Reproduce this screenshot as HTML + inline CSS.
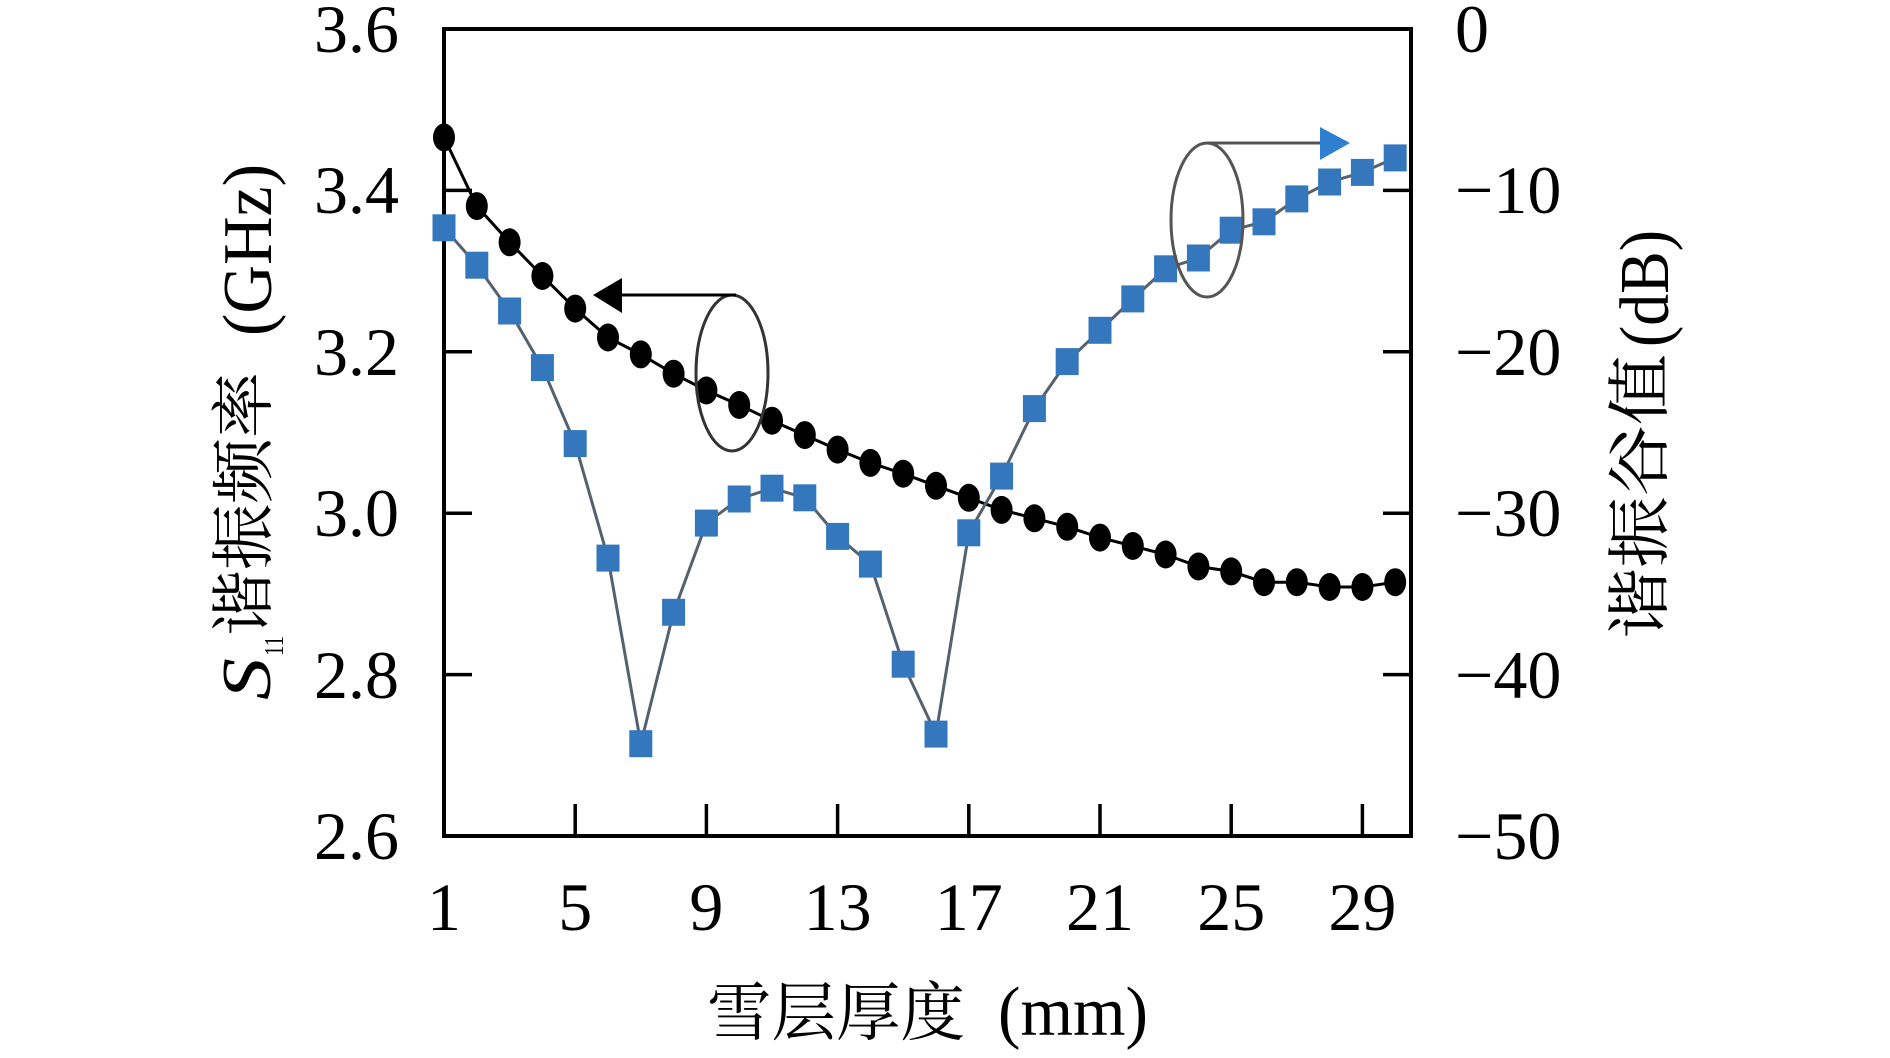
<!DOCTYPE html>
<html>
<head>
<meta charset="utf-8">
<style>
html,body{margin:0;padding:0;background:#fff;}
svg{display:block;}
.tk{font-family:"Liberation Serif","DejaVu Serif",serif;font-size:68px;fill:#000;}
.cj{font-family:"Liberation Serif","Noto Serif CJK SC","Noto Sans CJK SC",serif;fill:#000;}
</style>
</head>
<body>
<svg width="1890" height="1058" viewBox="0 0 1890 1058" xmlns="http://www.w3.org/2000/svg">
<rect x="0" y="0" width="1890" height="1058" fill="#fff"/>

<!-- ticks -->
<g stroke="#000" stroke-width="3.5">
  <line x1="444" y1="190.4" x2="472" y2="190.4"/>
  <line x1="444" y1="351.8" x2="472" y2="351.8"/>
  <line x1="444" y1="513.2" x2="472" y2="513.2"/>
  <line x1="444" y1="674.6" x2="472" y2="674.6"/>
  <line x1="444" y1="29" x2="472" y2="29"/>
  <line x1="1383" y1="190.4" x2="1411" y2="190.4"/>
  <line x1="1383" y1="351.8" x2="1411" y2="351.8"/>
  <line x1="1383" y1="513.2" x2="1411" y2="513.2"/>
  <line x1="1383" y1="674.6" x2="1411" y2="674.6"/>
  <line x1="575.2" y1="836" x2="575.2" y2="804"/>
  <line x1="706.4" y1="836" x2="706.4" y2="804"/>
  <line x1="837.6" y1="836" x2="837.6" y2="804"/>
  <line x1="968.8" y1="836" x2="968.8" y2="804"/>
  <line x1="1100" y1="836" x2="1100" y2="804"/>
  <line x1="1231.2" y1="836" x2="1231.2" y2="804"/>
  <line x1="1362.4" y1="836" x2="1362.4" y2="804"/>
</g>
<rect x="444" y="29" width="967" height="807" fill="none" stroke="#000" stroke-width="4"/>

<!-- left tick labels -->
<g class="tk" text-anchor="end">
  <text x="399" y="52">3.6</text>
  <text x="399" y="213">3.4</text>
  <text x="399" y="375">3.2</text>
  <text x="399" y="536">3.0</text>
  <text x="399" y="698">2.8</text>
  <text x="399" y="859">2.6</text>
</g>
<!-- right tick labels -->
<g class="tk" text-anchor="start">
  <text x="1455" y="52">0</text>
  <text x="1455" y="213">−10</text>
  <text x="1455" y="375">−20</text>
  <text x="1455" y="536">−30</text>
  <text x="1455" y="698">−40</text>
  <text x="1455" y="859">−50</text>
</g>
<!-- bottom tick labels -->
<g class="tk" text-anchor="middle">
  <text x="444" y="930">1</text>
  <text x="575.2" y="930">5</text>
  <text x="706.4" y="930">9</text>
  <text x="837.6" y="930">13</text>
  <text x="968.8" y="930">17</text>
  <text x="1100" y="930">21</text>
  <text x="1231.2" y="930">25</text>
  <text x="1362.4" y="930">29</text>
</g>

<!-- x axis title -->
<text class="cj" x="707" y="1035" font-size="64" textLength="258" lengthAdjust="spacingAndGlyphs">雪层厚度</text>
<text class="tk" x="998" y="1035" font-size="70" textLength="150" lengthAdjust="spacingAndGlyphs" style="font-size:70px">(mm)</text>

<!-- left axis title (rotated) -->
<text transform="translate(270,700) rotate(-90)" font-family="Liberation Serif, serif" font-style="italic" font-size="70" textLength="42" lengthAdjust="spacingAndGlyphs">S</text>
<text transform="translate(283,656) rotate(-90)" font-family="Liberation Serif, serif" font-size="27" textLength="20" lengthAdjust="spacingAndGlyphs">11</text>
<text class="cj" transform="translate(266,636) rotate(-90)" font-size="64" textLength="264" lengthAdjust="spacingAndGlyphs">谐振频率</text>
<text transform="translate(271,336) rotate(-90)" font-family="Liberation Serif, serif" font-size="70" textLength="172" lengthAdjust="spacingAndGlyphs">(GHz)</text>

<!-- right axis title (rotated) -->
<text class="cj" transform="translate(1662,639) rotate(-90)" font-size="64" textLength="285" lengthAdjust="spacingAndGlyphs">谐振谷值</text>
<text transform="translate(1668,347) rotate(-90)" font-family="Liberation Serif, serif" font-size="70" textLength="117" lengthAdjust="spacingAndGlyphs">(dB)</text>

<!-- black series -->
<polyline fill="none" stroke="#000" stroke-width="3" points="444,137.4 476.8,206.1 509.6,242.3 542.4,276 575.2,308.6 608,337.5 640.8,354.4 673.6,373.7 706.4,390.5 739.2,405 772,420.7 804.8,435.1 837.6,449.6 870.4,462.9 903.2,473.7 936,485.8 968.8,497.8 1001.6,509.9 1034.4,518.3 1067.2,526.8 1100,537.6 1132.8,546 1165.6,554.5 1198.4,566.5 1231.2,571.4 1264,582.2 1296.8,582.2 1329.6,587 1362.4,587 1395.2,582.2"/>
<g fill="#000">
  <ellipse cx="444" cy="137.4" rx="11" ry="14"/>
  <ellipse cx="476.8" cy="206.1" rx="11" ry="14"/>
  <ellipse cx="509.6" cy="242.3" rx="11" ry="14"/>
  <ellipse cx="542.4" cy="276" rx="11" ry="14"/>
  <ellipse cx="575.2" cy="308.6" rx="11" ry="14"/>
  <ellipse cx="608" cy="337.5" rx="11" ry="14"/>
  <ellipse cx="640.8" cy="354.4" rx="11" ry="14"/>
  <ellipse cx="673.6" cy="373.7" rx="11" ry="14"/>
  <ellipse cx="706.4" cy="390.5" rx="11" ry="14"/>
  <ellipse cx="739.2" cy="405" rx="11" ry="14"/>
  <ellipse cx="772" cy="420.7" rx="11" ry="14"/>
  <ellipse cx="804.8" cy="435.1" rx="11" ry="14"/>
  <ellipse cx="837.6" cy="449.6" rx="11" ry="14"/>
  <ellipse cx="870.4" cy="462.9" rx="11" ry="14"/>
  <ellipse cx="903.2" cy="473.7" rx="11" ry="14"/>
  <ellipse cx="936" cy="485.8" rx="11" ry="14"/>
  <ellipse cx="968.8" cy="497.8" rx="11" ry="14"/>
  <ellipse cx="1001.6" cy="509.9" rx="11" ry="14"/>
  <ellipse cx="1034.4" cy="518.3" rx="11" ry="14"/>
  <ellipse cx="1067.2" cy="526.8" rx="11" ry="14"/>
  <ellipse cx="1100" cy="537.6" rx="11" ry="14"/>
  <ellipse cx="1132.8" cy="546" rx="11" ry="14"/>
  <ellipse cx="1165.6" cy="554.5" rx="11" ry="14"/>
  <ellipse cx="1198.4" cy="566.5" rx="11" ry="14"/>
  <ellipse cx="1231.2" cy="571.4" rx="11" ry="14"/>
  <ellipse cx="1264" cy="582.2" rx="11" ry="14"/>
  <ellipse cx="1296.8" cy="582.2" rx="11" ry="14"/>
  <ellipse cx="1329.6" cy="587" rx="11" ry="14"/>
  <ellipse cx="1362.4" cy="587" rx="11" ry="14"/>
  <ellipse cx="1395.2" cy="582.2" rx="11" ry="14"/>
</g>

<!-- blue series -->
<polyline fill="none" stroke="#56616e" stroke-width="3" points="444,227.8 476.8,265.2 509.6,311 542.4,367.6 575.2,443.6 608,558.1 640.8,743.7 673.6,612.3 706.4,523.1 739.2,499 772,488.2 804.8,497.8 837.6,536.4 870.4,564.1 903.2,664.2 936,734.1 968.8,532.8 1001.6,476.1 1034.4,408.6 1067.2,361.6 1100,330.3 1132.8,298.9 1165.6,268.8 1198.4,258 1231.2,230.2 1264,221.8 1296.8,198.9 1329.6,182 1362.4,172.4 1395.2,157.9"/>
<g fill="#3577bd">
  <rect x="432.5" y="214.3" width="23" height="27"/>
  <rect x="465.3" y="251.7" width="23" height="27"/>
  <rect x="498.1" y="297.5" width="23" height="27"/>
  <rect x="530.9" y="354.1" width="23" height="27"/>
  <rect x="563.7" y="430.1" width="23" height="27"/>
  <rect x="596.5" y="544.6" width="23" height="27"/>
  <rect x="629.3" y="730.2" width="23" height="27"/>
  <rect x="662.1" y="598.8" width="23" height="27"/>
  <rect x="694.9" y="509.6" width="23" height="27"/>
  <rect x="727.7" y="485.5" width="23" height="27"/>
  <rect x="760.5" y="474.7" width="23" height="27"/>
  <rect x="793.3" y="484.3" width="23" height="27"/>
  <rect x="826.1" y="522.9" width="23" height="27"/>
  <rect x="858.9" y="550.6" width="23" height="27"/>
  <rect x="891.7" y="650.7" width="23" height="27"/>
  <rect x="924.5" y="720.6" width="23" height="27"/>
  <rect x="957.3" y="519.3" width="23" height="27"/>
  <rect x="990.1" y="462.6" width="23" height="27"/>
  <rect x="1022.9" y="395.1" width="23" height="27"/>
  <rect x="1055.7" y="348.1" width="23" height="27"/>
  <rect x="1088.5" y="316.8" width="23" height="27"/>
  <rect x="1121.3" y="285.4" width="23" height="27"/>
  <rect x="1154.1" y="255.3" width="23" height="27"/>
  <rect x="1186.9" y="244.5" width="23" height="27"/>
  <rect x="1219.7" y="216.7" width="23" height="27"/>
  <rect x="1252.5" y="208.3" width="23" height="27"/>
  <rect x="1285.3" y="185.4" width="23" height="27"/>
  <rect x="1318.1" y="168.5" width="23" height="27"/>
  <rect x="1350.9" y="158.9" width="23" height="27"/>
  <rect x="1383.7" y="144.4" width="23" height="27"/>
</g>

<!-- annotation left: ellipse + arrow to left axis -->
<ellipse cx="732" cy="373" rx="36" ry="78" fill="none" stroke="#333" stroke-width="3"/>
<line x1="736" y1="295" x2="620" y2="295" stroke="#000" stroke-width="3"/>
<polygon points="593,295 622,278 622,313" fill="#000"/>

<!-- annotation right: ellipse + arrow to right axis -->
<ellipse cx="1207" cy="220" rx="36" ry="77" fill="none" stroke="#555" stroke-width="3"/>
<line x1="1207" y1="143" x2="1322" y2="143" stroke="#555" stroke-width="3"/>
<polygon points="1350,143 1320,127 1320,160" fill="#2f7fd0"/>
</svg>
</body>
</html>
